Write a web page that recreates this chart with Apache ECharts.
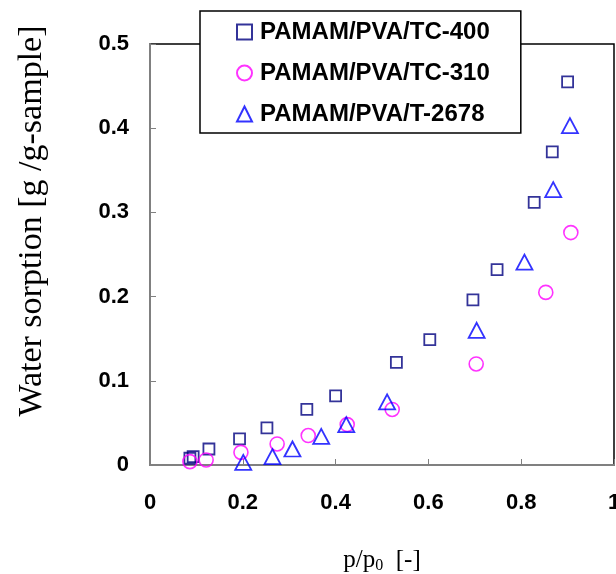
<!DOCTYPE html>
<html>
<head>
<meta charset="utf-8">
<script src="https://cdn.jsdelivr.net/npm/echarts@6/dist/echarts.min.js"></script>
<style>html,body{margin:0;padding:0;background:#fff;}#c{width:616px;height:574px;}</style>
</head>
<body>
<div id="c"></div>
<script>
// Data: [p/p0, water sorption]
const seriesNames = ['PAMAM/PVA/TC-400', 'PAMAM/PVA/TC-310', 'PAMAM/PVA/T-2678'];
const tc400 = [
  [0.086, 0.008], [0.093, 0.010], [0.127, 0.019], [0.193, 0.031], [0.252, 0.044],
  [0.338, 0.066], [0.400, 0.082], [0.531, 0.122], [0.603, 0.149], [0.696, 0.196],
  [0.748, 0.232], [0.828, 0.312], [0.867, 0.372], [0.900, 0.455]
];
const tc310 = [
  [0.086, 0.004], [0.121, 0.006], [0.196, 0.015], [0.274, 0.025], [0.341, 0.035],
  [0.425, 0.048], [0.522, 0.066], [0.703, 0.120], [0.853, 0.205], [0.907, 0.276]
];
const t2678 = [
  [0.201, 0.003], [0.264, 0.010], [0.307, 0.019], [0.369, 0.034], [0.423, 0.048],
  [0.511, 0.075], [0.704, 0.160], [0.807, 0.241], [0.869, 0.327], [0.905, 0.403]
];
const xTicks = ['0', '0.2', '0.4', '0.6', '0.8', '1'];
const yTicks = ['0', '0.1', '0.2', '0.3', '0.4', '0.5'];
const yTitle = 'Water sorption [g /g-sample]';

const chart = echarts.init(document.getElementById('c'), null, {renderer: 'canvas'});
const labelFont = {fontFamily: 'Liberation Sans, Arial, sans-serif', fontWeight: 'bold', fontSize: 22, color: '#000'};
chart.setOption({
  animation: false,
  backgroundColor: '#fff',
  grid: {left: 150, right: 2, top: 44, bottom: 109, outerBoundsMode: 'none', containLabel: false,
         show: true, borderColor: '#000', borderWidth: 1.5, backgroundColor: 'transparent'},
  xAxis: {
    type: 'value', min: 0, max: 1, interval: 0.2,
    axisLine: {show: true, onZero: false, lineStyle: {color: '#808080', width: 2}},
    axisTick: {show: true, inside: true, length: 6, lineStyle: {color: '#808080', width: 1}},
    splitLine: {show: false},
    axisLabel: Object.assign({margin: 27, hideOverlap: false, formatter: (v) => xTicks[Math.round(v / 0.2)] || ''}, labelFont)
  },
  yAxis: {
    type: 'value', min: 0, max: 0.5, interval: 0.1,
    axisLine: {show: true, onZero: false, lineStyle: {color: '#808080', width: 2}},
    axisTick: {show: true, inside: true, length: 6, lineStyle: {color: '#808080', width: 1}},
    splitLine: {show: false},
    axisLabel: Object.assign({margin: 21, formatter: (v) => yTicks[Math.round(v / 0.1)] || ''}, labelFont)
  },
  legend: {
    orient: 'vertical', left: 200, top: 11,
    padding: [8, 31, 6, 36],
    itemGap: 15, itemWidth: 15, itemHeight: 15,
    backgroundColor: '#fff', borderColor: '#000', borderWidth: 1.5,
    textStyle: {fontFamily: 'Liberation Sans, Arial, sans-serif', fontWeight: 'bold', fontSize: 24, color: '#000', lineHeight: 26, padding: [0, 0, 0, 3]},
    data: seriesNames
  },
  graphic: [
    {type: 'text', x: 32, y: 221, rotation: Math.PI / 2,
     style: {text: yTitle, fontFamily: 'Liberation Serif, Times New Roman, serif', fontSize: 34, fill: '#000', align: 'center', verticalAlign: 'middle'}},
    {type: 'text', x: 382, y: 560,
     style: {text: '{a|p/p}{s|0}{a|  [-]}', align: 'center', verticalAlign: 'middle',
       rich: {a: {fontFamily: 'Liberation Serif, Times New Roman, serif', fontSize: 25, fill: '#000', lineHeight: 30},
              s: {fontFamily: 'Liberation Serif, Times New Roman, serif', fontSize: 16, fill: '#000', lineHeight: 30, padding: [12, 0, 0, 0]}}}}
  ],
  series: [
    {name: seriesNames[0], type: 'scatter', data: tc400, symbol: 'rect', symbolSize: 11,
     itemStyle: {color: 'rgba(255,255,255,0)', borderColor: '#000080', borderWidth: 1.8}},
    {name: seriesNames[1], type: 'scatter', data: tc310, symbol: 'circle', symbolSize: 14,
     itemStyle: {color: 'rgba(255,255,255,0)', borderColor: '#ff00ff', borderWidth: 1.6}},
    {name: seriesNames[2], type: 'scatter', data: t2678, symbol: 'triangle', symbolSize: [16, 15],
     itemStyle: {color: 'rgba(255,255,255,0)', borderColor: '#0000ff', borderWidth: 1.8}}
  ]
});
</script>
</body>
</html>
